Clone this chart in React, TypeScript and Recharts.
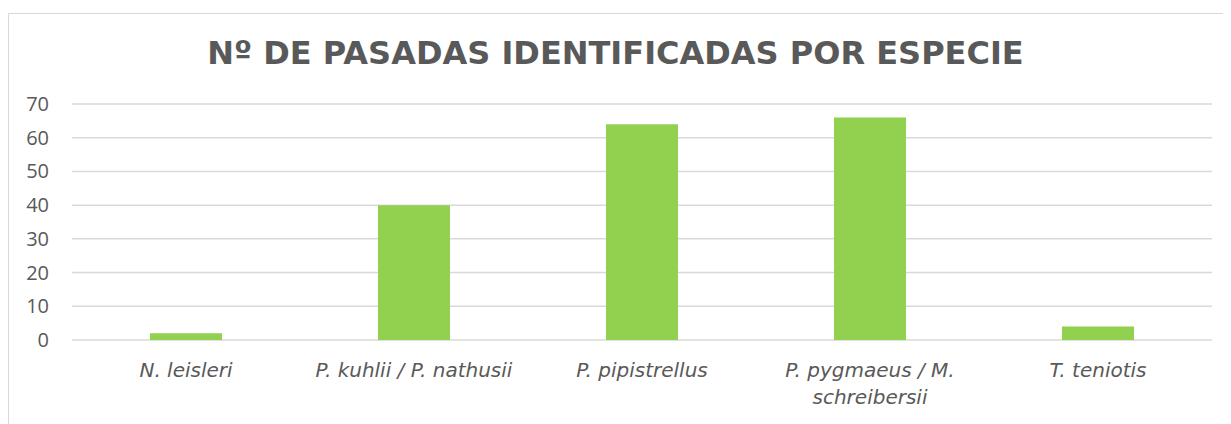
import React from "react"
import { BarChart, Bar, XAxis, YAxis, CartesianGrid } from "recharts"

const categories = [
  "N. leisleri",
  "P. kuhlii / P. nathusii",
  "P. pipistrellus",
  "P. pygmaeus / M. schreibersii",
  "T. teniotis",
]
const pasadas = [2, 40, 64, 66, 4]
const yTicks = [0, 10, 20, 30, 40, 50, 60, 70]

const data = categories.map((name, i) => ({ name, value: pasadas[i] }))

const FONT = "'DejaVu Sans', sans-serif"
const TICK_FONT = "'Open Sans', 'DejaVu Sans', sans-serif"
const TEXT = "#595959"

// wraps a label like Excel does when it doesn't fit in the category band
const wrap = (label: string, maxChars = 24) => {
  const words = label.split(" ")
  const lines: string[] = []
  let cur = ""
  for (const w of words) {
    const next = cur ? cur + " " + w : w
    if (next.length > maxChars && cur) {
      lines.push(cur)
      cur = w
    } else {
      cur = next
    }
  }
  if (cur) lines.push(cur)
  return lines
}

const CategoryTick = (props: any) => {
  const { x, y, payload } = props
  const lines = wrap(payload.value)
  return (
    <text x={x} y={y + 28.5} textAnchor="middle" fill={TEXT} fontSize={20} fontStyle="italic" fontFamily={FONT}>
      {lines.map((l, i) => (
        <tspan key={i} x={x} dy={i === 0 ? 0 : 27}>
          {l}
        </tspan>
      ))}
    </text>
  )
}

const ValueTick = (props: any) => {
  const { y, payload } = props
  return (
    <text x={41} y={y + 7} textAnchor="end" fill={TEXT} fontSize={20} fontFamily={TICK_FONT}>
      {payload.value}
    </text>
  )
}

export default function App() {
  return (
    <div style={{ position: "relative", width: 1223, height: 416 }}>
      <div
        style={{
          position: "absolute",
          top: 5,
          left: 0,
          width: 1223,
          height: 411,
          borderTop: "1px solid #d9d9d9",
          borderLeft: "1px solid #d9d9d9",
        }}
      />
      <div
        style={{
          position: "absolute",
          top: 25,
          left: 0,
          width: 1215,
          textAlign: "center",
          fontFamily: FONT,
          fontWeight: 700,
          fontSize: 32,
          lineHeight: "40px",
          color: TEXT,
        }}
      >
        Nº DE PASADAS IDENTIFICADAS POR ESPECIE
      </div>
      <div style={{ position: "absolute", top: 0, left: 0 }}>
        <BarChart width={1223} height={416} data={data} margin={{ top: 96, right: 19, bottom: 0, left: 0 }}>
          <CartesianGrid vertical={false} stroke="#d9d9d9" strokeWidth={1.5} />
          <XAxis
            dataKey="name"
            axisLine={false}
            tickLine={false}
            height={84}
            interval={0}
            tick={<CategoryTick />}
          />
          <YAxis
            domain={[0, 70]}
            ticks={yTicks}
            width={64}
            axisLine={false}
            tickLine={false}
            tick={<ValueTick />}
          />
          <Bar dataKey="value" fill="#92D050" barSize={72} isAnimationActive={false} />
        </BarChart>
      </div>
    </div>
  )
}
